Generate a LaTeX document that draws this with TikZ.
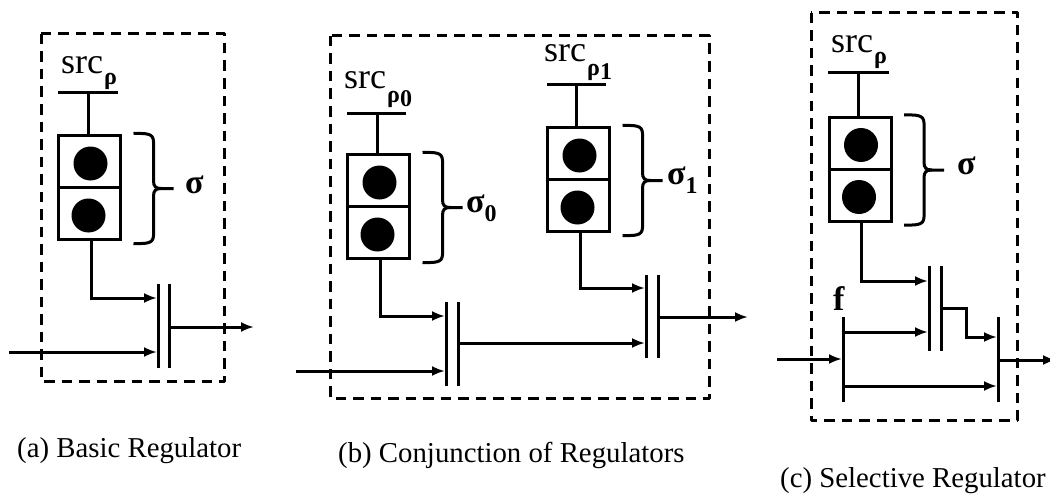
\documentclass[tikz,border=0pt]{standalone}
\usepackage{fontspec}
\setmainfont{Liberation Serif}
\usetikzlibrary{arrows.meta}
\tikzset{
 x=1pt,y=-1pt,
 frame/.style={draw,line width=3pt,dash pattern=on 10.5pt off 7pt,line join=round},
 wire/.style={draw,line width=3pt},
 arrowwire/.style={wire,-{Latex[length=13pt,width=10pt]}},
 bar/.style={draw,line width=3pt},
 cell/.style={draw,line width=3pt,minimum width=62pt,minimum height=52pt,inner sep=0pt,outer sep=0pt},
 dot/.style={circle,fill=black,minimum size=34pt,inner sep=0pt},
 srclabel/.style={font=\fontsize{36}{36}\selectfont,inner sep=0pt,anchor=base west},
 siglabel/.style={font=\fontsize{34}{34}\selectfont\bfseries,inner sep=0pt,anchor=base west},
 caption/.style={font=\fontsize{28.8}{30}\selectfont,inner sep=0pt,anchor=base west},
}
\newcommand{\srcp}[2]{src\kern1pt\raisebox{#1}{\fontsize{24}{24}\selectfont\bfseries ρ\raisebox{-4pt}{#2}}}
\newcommand{\sgs}[1]{σ\raisebox{-9pt}{\fontsize{24}{24}\selectfont\bfseries #1}}
% arguments: name, left x of box, top y of box
\newcommand{\regbox}[3]{%
 \begin{scope}[shift={(#2,#3)}]
 \node[cell,anchor=north west] (#1a) at (0,0) {};
 \node[cell,anchor=north west] (#1b) at (0,52) {};
 \node[dot] (#1c) at (32,28) {};
 \node[dot] (#1d) at (30,80) {};
 \draw[wire] (75,-2) .. controls (86,-2) and (95,-3) .. (95,6) -- (95,45)
   .. controls (95,51) and (97,53) .. (103,53) -- (115,53);
 \draw[wire] (103,53) .. controls (97,53) and (95,55) .. (95,61) -- (95,100)
   .. controls (95,109) and (86,108) .. (75,108);
 \end{scope}
}
\begin{document}
\begin{tikzpicture}
\useasboundingbox (0,0) rectangle (1050,495);
% Panel a
\draw[frame] (41,34) rectangle (224,381);
\regbox{A}{58.5}{135.5}
\coordinate (Asl) at (58,93); \coordinate (Asr) at (118,93); \coordinate (Ast) at (88,93);
\draw[wire] (Asl) -- (Asr);
\draw[wire] (Ast) -- (Ast |- Aa.north);
\node[srclabel] (Asrc) at (61,74) {\srcp{-11pt}{}};
\node[siglabel] (Asig) at (185,193) {σ};
\draw[bar] (158,284) -- (158,368);
\draw[bar] (169,284) -- (169,368);
\coordinate (Ai1) at (157,298); \coordinate (Ai2) at (157,352); \coordinate (Ain) at (9,352);
\coordinate (Ao) at (170,327); \coordinate (Aend) at (254,327);
\draw[arrowwire] ([xshift=1.5pt]Ab.south) |- (Ai1);
\draw[arrowwire] (Ain) -- (Ai2);
\draw[arrowwire] (Ao) -- (Aend);
\node[caption] (Acap) at (17,457) {(a) Basic Regulator};
% Panel b
\draw[frame] (330,36) rectangle (709,398);
\regbox{B}{347.5}{154.5}
\regbox{C}{547.5}{127.5}
\coordinate (Bst) at (377,113); \coordinate (Cst) at (576,85);
\draw[wire] (347,113) -- (406,113);
\draw[wire] (Bst) -- (Bst |- Ba.north);
\draw[wire] (547,85) -- (606,85);
\draw[wire] (Cst) -- (Cst |- Ca.north);
\node[srclabel] (Bsrc) at (344,88.5) {\srcp{-14pt}{0}};
\node[srclabel] (Csrc) at (544,62) {\srcp{-14pt}{1}};
\node[siglabel] (Bsig) at (466,212) {\sgs{0}};
\node[siglabel] (Csig) at (667,184) {\sgs{1}};
\draw[bar] (446,302) -- (446,386);
\draw[bar] (458,302) -- (458,386);
\draw[bar] (646,275) -- (646,358);
\draw[bar] (658,275) -- (658,358);
\coordinate (Bi1) at (445,316); \coordinate (Bi2) at (445,371); \coordinate (Bin) at (296,371);
\coordinate (Bo) at (459,343); \coordinate (Ci2) at (645,343); \coordinate (Ci1) at (645,288);
\coordinate (Co) at (659,317); \coordinate (Cend) at (748,317);
\draw[arrowwire] ([xshift=1.5pt]Bb.south) |- (Bi1);
\draw[arrowwire] (Bin) -- (Bi2);
\draw[arrowwire] (Bo) -- (Ci2);
\draw[arrowwire] ([xshift=1.5pt]Cb.south) |- (Ci1);
\draw[arrowwire] (Co) -- (Cend);
\node[caption] (Bcap) at (338,462) {(b) Conjunction of Regulators};
% Panel c
\draw[frame] (811,13) rectangle (1017,420);
\regbox{D}{829}{117}
\coordinate (Dst) at (858,73);
\draw[wire] (828,73) -- (889,73);
\draw[wire] (Dst) -- (Dst |- Da.north);
\node[srclabel] (Dsrc) at (831,53) {\srcp{-11pt}{}};
\node[siglabel] (Dsig) at (957,174) {σ};
\draw[bar] (929,266) -- (929,351);
\draw[bar] (941,266) -- (941,351);
\draw[bar] (843,317) -- (843,402);
\draw[bar] (998,317) -- (998,402);
\node[siglabel] (Df) at (833,310) {f};
\coordinate (Di1) at (928,281); \coordinate (Di2) at (928,332); \coordinate (Dfa) at (843,332);
\coordinate (Din) at (777,359); \coordinate (Dfb) at (842,359);
\coordinate (Dl) at (843,386); \coordinate (Dr) at (997,386);
\coordinate (Do) at (942,308); \coordinate (Dr2) at (997,337);
\coordinate (Dx) at (999,360); \coordinate (Dend) at (1056,360);
\draw[arrowwire] ([xshift=1.5pt]Db.south) |- (Di1);
\draw[arrowwire] (Dfa) -- (Di2);
\draw[arrowwire] (Din) -- (Dfb);
\draw[arrowwire] (Dl) -- (Dr);
\draw[arrowwire] (Do) -- (966,308) -- (966,337) -- (Dr2);
\draw[arrowwire] (Dx) -- (Dend);
\node[caption] (Dcap) at (780,487) {(c) Selective Regulator};
\end{tikzpicture}
\end{document}
